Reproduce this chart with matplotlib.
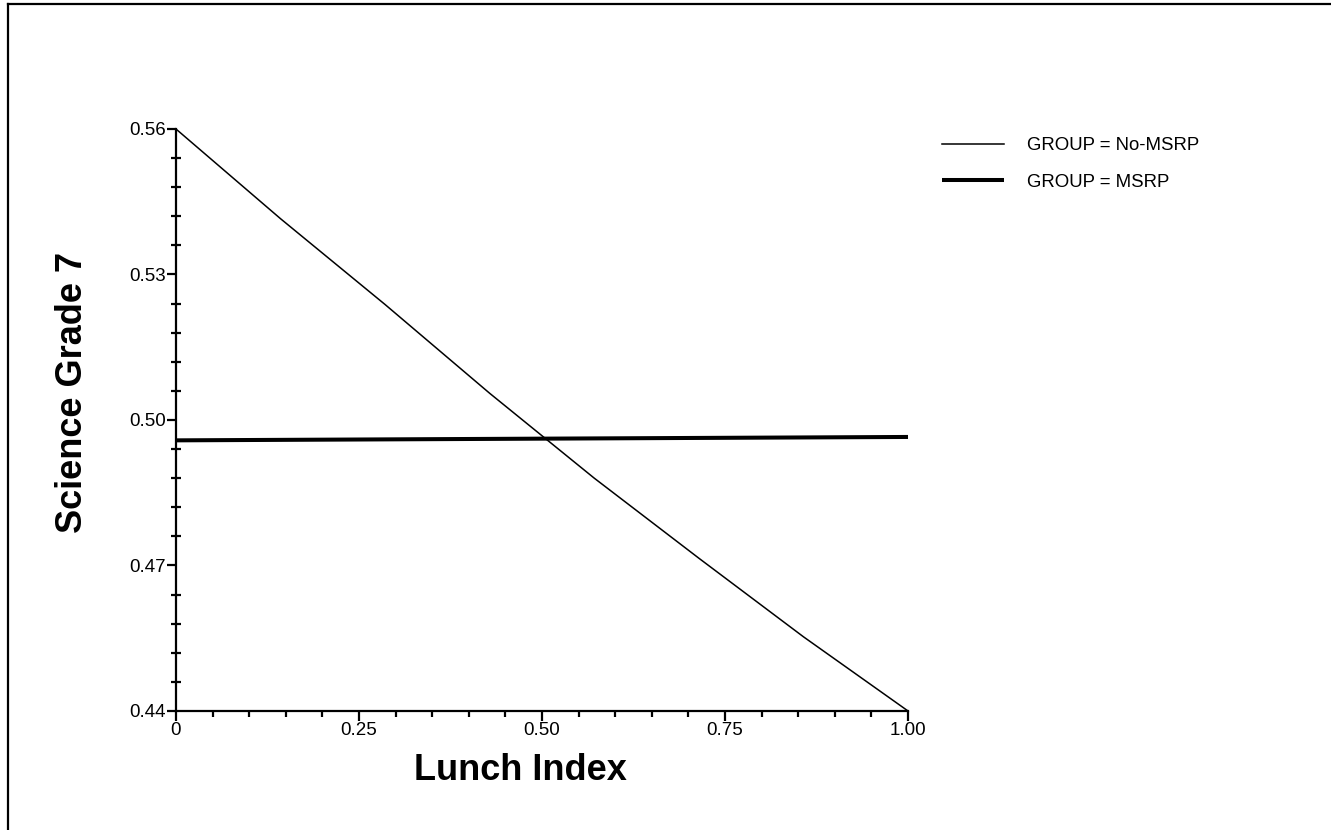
import matplotlib
matplotlib.use("Agg")
import matplotlib.pyplot as plt
from matplotlib.lines import Line2D
from matplotlib.ticker import FixedLocator

plt.rcParams['font.family'] = ['Liberation Sans', 'DejaVu Sans']

# predicted science score across the lunch index, per group
lunch = [0, 1/7, 2/7, 3/7, 4/7, 5/7, 6/7, 1]
no_msrp = [0.560, 0.5415, 0.5238, 0.5055, 0.4880, 0.4715, 0.4553, 0.440]
msrp_x = [0, 1]
msrp = [0.4958, 0.4965]

x_ticks = [0, 0.25, 0.50, 0.75, 1.00]
x_labels = ['0', '0.25', '0.50', '0.75', '1.00']
y_ticks = [0.44, 0.47, 0.50, 0.53, 0.56]
y_labels = ['0.44', '0.47', '0.50', '0.53', '0.56']


def minor_between(majors, n=4):
    # n evenly spaced minor ticks inside each major interval
    out = []
    for a, b in zip(majors[:-1], majors[1:]):
        step = (b - a) / (n + 1)
        out += [a + step * k for k in range(1, n + 1)]
    return out


fig = plt.figure(figsize=(13.31, 8.30), dpi=100)
ax = fig.add_axes([0.1322, 0.1434, 0.55, 0.7012])

ax.plot(lunch, no_msrp, color='black', lw=1.1, label='GROUP = No-MSRP',
        solid_joinstyle='miter', clip_on=False)
ax.plot(msrp_x, msrp, color='black', lw=2.9, label='GROUP = MSRP',
        solid_capstyle='butt', clip_on=False)

ax.set_xlim(0, 1)
ax.set_ylim(0.44, 0.56)

ax.xaxis.set_major_locator(FixedLocator(x_ticks))
ax.set_xticklabels(x_labels)
ax.xaxis.set_minor_locator(FixedLocator(minor_between(x_ticks)))
ax.yaxis.set_major_locator(FixedLocator(y_ticks))
ax.set_yticklabels(y_labels)
ax.yaxis.set_minor_locator(FixedLocator(minor_between(y_ticks)))

for side in ('top', 'right'):
    ax.spines[side].set_visible(False)
for side in ('left', 'bottom'):
    ax.spines[side].set_linewidth(1.6)

ax.tick_params(axis='x', which='major', direction='out', length=7, width=1.6,
               labelsize=13.5, pad=1)
ax.tick_params(axis='x', which='minor', direction='out', length=4.5, width=1.6)
ax.tick_params(axis='y', which='major', direction='out', length=6.5, width=1.6,
               labelsize=13.5, pad=1)
ax.tick_params(axis='y', which='minor', direction='inout', length=6.5, width=1.6)

ax.set_xlabel('Lunch Index', fontsize=26, fontweight='bold')
ax.set_ylabel('Science Grade 7', fontsize=26, fontweight='bold')
ax.xaxis.set_label_coords(0.471, -0.072)
ax.yaxis.set_label_coords(-0.117, 0.548)

fig.legend(loc='upper left', bbox_to_anchor=(942 / 1331, 1 - 137 / 830),
           frameon=False, fontsize=13.4, handlelength=3.33, handletextpad=1.24,
           labelspacing=1.05, borderpad=0, borderaxespad=0)

# page frame
fig.add_artist(Line2D([8/1331, 8/1331], [-0.01, 1 - 4/830], transform=fig.transFigure,
                      color='black', lw=1.6))
fig.add_artist(Line2D([8/1331, 1.01], [1 - 4/830, 1 - 4/830], transform=fig.transFigure,
                      color='black', lw=1.6))

fig.savefig('out.png', dpi=100)
